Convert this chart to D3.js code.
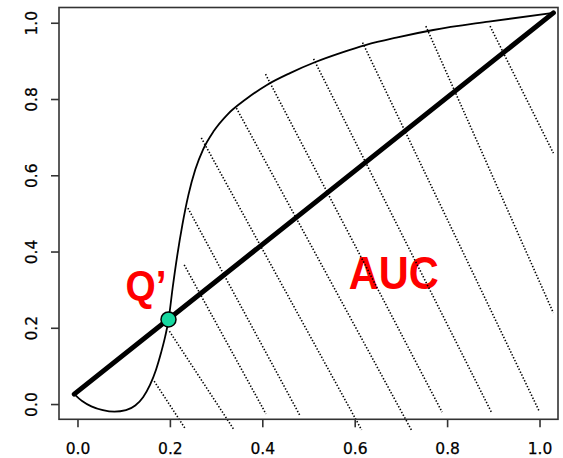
<!DOCTYPE html>
<html>
<head>
<meta charset="utf-8">
<script src="https://cdn.jsdelivr.net/npm/d3@7"></script>
<style>
  html, body { margin: 0; padding: 0; background: #fff; }
  svg { display: block; }
</style>
</head>
<body>
<svg id="chart" width="563" height="458"></svg>
<script>
// ROC-style curve against the chance diagonal, with hatched area under the curve
const tickValues = [0, 0.2, 0.4, 0.6, 0.8, 1.0];
const tickLabels = ["0.0", "0.2", "0.4", "0.6", "0.8", "1.0"];

// curve (false positive rate vs true positive rate)
const curveX = [-0.007, 0.010, 0.030, 0.055, 0.080, 0.105, 0.125, 0.142, 0.157, 0.170, 0.181, 0.190, 0.197, 0.206, 0.216, 0.227, 0.240, 0.255, 0.272, 0.295, 0.325, 0.365, 0.410, 0.460, 0.515, 0.570, 0.625, 0.690, 0.770, 0.890, 1.030];
const curveY = [0.026, 0.008, -0.006, -0.016, -0.020, -0.016, -0.004, 0.018, 0.050, 0.090, 0.135, 0.178, 0.220, 0.305, 0.390, 0.470, 0.548, 0.615, 0.668, 0.716, 0.760, 0.800, 0.837, 0.868, 0.897, 0.921, 0.942, 0.961, 0.981, 1.003, 1.026];

// chance diagonal
const diagX = [-0.007, 1.030];
const diagY = [0.026, 1.026];

// crossing point Q'
const crossX = [0.197];
const crossY = [0.222];

// hatch segments: top and bottom ends
const hatchTopX = [0.166, 0.199, 0.231, 0.239, 0.268, 0.344, 0.407, 0.511, 0.617, 0.754, 0.893];
const hatchTopY = [0.060, 0.191, 0.365, 0.514, 0.698, 0.776, 0.865, 0.905, 0.948, 0.991, 0.991];
const hatchBotX = [0.234, 0.338, 0.408, 0.481, 0.615, 0.724, 0.789, 0.897, 0.999, 1.030, 1.030];
const hatchBotY = [-0.066, -0.066, -0.026, -0.029, -0.068, -0.071, -0.021, -0.024, -0.018, 0.239, 0.658];

const svg = d3.select("#chart");
const plotLeft = 59, plotRight = 558, plotTop = 7.5, plotBottom = 419.3;

const x = d3.scaleLinear().domain([-0.04, 1.04]).range([plotLeft, plotRight]);
const y = d3.scaleLinear().domain([-0.04, 1.04]).range([plotBottom, plotTop]);

// labels
svg.append("text")
  .attr("x", x(0.587)).attr("y", y(0.301))
  .attr("font-family", "Liberation Sans, Arial, sans-serif")
  .attr("font-weight", "bold")
  .attr("font-size", 46)
  .attr("fill", "#ff0000")
  .attr("textLength", 90)
  .attr("lengthAdjust", "spacingAndGlyphs")
  .text("AUC");

svg.append("text")
  .attr("x", x(0.104)).attr("y", y(0.272))
  .attr("font-family", "Liberation Sans, Arial, sans-serif")
  .attr("font-weight", "bold")
  .attr("font-size", 43)
  .attr("fill", "#ff0000")
  .attr("textLength", 41)
  .attr("lengthAdjust", "spacingAndGlyphs")
  .text("Q\u2019");

// hatching
svg.append("g")
  .selectAll("line")
  .data(d3.range(hatchTopX.length))
  .join("line")
  .attr("x1", i => x(hatchTopX[i]))
  .attr("y1", i => y(hatchTopY[i]))
  .attr("x2", i => x(hatchBotX[i]))
  .attr("y2", i => y(hatchBotY[i]))
  .attr("stroke", "#000")
  .attr("stroke-width", 1.6)
  .attr("stroke-dasharray", "1.4,1.8");

// curve
const curvePts = curveX.map((v, i) => [v, curveY[i]]);
svg.append("path")
  .datum(curvePts)
  .attr("fill", "none")
  .attr("stroke", "#000")
  .attr("stroke-width", 1.8)
  .attr("d", d3.line().x(d => x(d[0])).y(d => y(d[1])).curve(d3.curveMonotoneX));

// diagonal
const diagPts = diagX.map((v, i) => [v, diagY[i]]);
svg.append("path")
  .datum(diagPts)
  .attr("fill", "none")
  .attr("stroke", "#000")
  .attr("stroke-width", 5)
  .attr("stroke-linecap", "round")
  .attr("d", d3.line().x(d => x(d[0])).y(d => y(d[1])));

// Q' point
svg.append("g")
  .selectAll("circle")
  .data(crossX.map((v, i) => [v, crossY[i]]))
  .join("circle")
  .attr("cx", d => x(d[0]))
  .attr("cy", d => y(d[1]))
  .attr("r", 7.5)
  .attr("fill", "#17d8a0")
  .attr("stroke", "#000")
  .attr("stroke-width", 1.5);

// frame
svg.append("rect")
  .attr("x", plotLeft).attr("y", plotTop)
  .attr("width", plotRight - plotLeft).attr("height", plotBottom - plotTop)
  .attr("fill", "none")
  .attr("stroke", "#333")
  .attr("stroke-width", 1.6);

// axes
const fmt = d => tickLabels[tickValues.indexOf(d)];
const xAxis = svg.append("g")
  .attr("transform", `translate(0,${plotBottom})`)
  .call(d3.axisBottom(x).tickValues(tickValues).tickFormat(fmt).tickSize(8));
const yAxis = svg.append("g")
  .attr("transform", `translate(${plotLeft},0)`)
  .call(d3.axisLeft(y).tickValues(tickValues).tickFormat(fmt).tickSize(8));

[xAxis, yAxis].forEach(g => {
  g.select(".domain").remove();
  g.selectAll(".tick line").attr("stroke", "#333").attr("stroke-width", 1.6);
  g.selectAll("text")
    .attr("font-family", "DejaVu Sans, Verdana, sans-serif")
    .attr("font-size", 15.5)
    .attr("fill", "#000")
    .attr("stroke", "#000")
    .attr("stroke-width", 0.25);
});
xAxis.selectAll("text").attr("y", 34.8).attr("dy", 0);
yAxis.selectAll("text")
  .attr("x", 0).attr("dy", 0)
  .attr("text-anchor", "middle")
  .attr("transform", "translate(-22,0) rotate(-90)");
</script>
</body>
</html>
